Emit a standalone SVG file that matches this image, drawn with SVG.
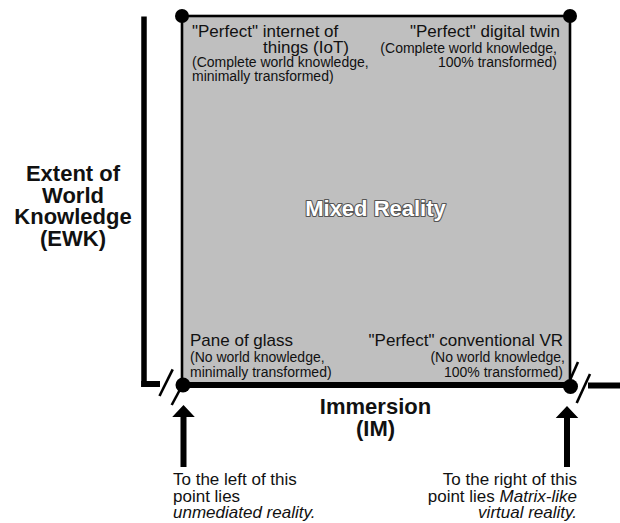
<svg xmlns="http://www.w3.org/2000/svg" width="620" height="523" viewBox="0 0 620 523">
<style>
text{font-family:"Liberation Sans",Arial,sans-serif;fill:#111}
.lg{font-size:17px}
.sm{font-size:14px}
.ax{font-size:22px;font-weight:bold;text-anchor:middle}
.r{text-anchor:end}
.it{font-style:italic}
.ln{stroke:#000;fill:none}
.dot{fill:#000}
</style>
<rect width="620" height="523" fill="#fff"/>
<g id="region">
<rect x="182" y="16" width="388" height="369" fill="#bfbfbf" stroke="#000" stroke-width="2.6"/>
<text x="375.5" y="216" class="ax" style="fill:#fff;stroke:#555;stroke-width:2.2;paint-order:stroke;stroke-linejoin:round">Mixed Reality</text>
</g>
<g id="connectors">
<line class="ln" x1="144" y1="16.5" x2="144" y2="387" stroke-width="5.5"/>
<line class="ln" x1="141.2" y1="384" x2="160" y2="384" stroke-width="6"/>
<line class="ln" x1="182" y1="385" x2="570" y2="385" stroke-width="6"/>
<line class="ln" x1="588" y1="385.5" x2="620" y2="385.5" stroke-width="6"/>
<line class="ln" x1="159.5" y1="396" x2="172.7" y2="369.3" stroke-width="2.6"/>
<line class="ln" x1="171.7" y1="405" x2="183" y2="384" stroke-width="2.6"/>
<line class="ln" x1="570" y1="380" x2="578" y2="362" stroke-width="2.6"/>
<line class="ln" x1="576.7" y1="403" x2="590" y2="374" stroke-width="2.6"/>
<path d="M183.5 405 L194.8 417 L186.5 417 L186.5 467 L180.5 467 L180.5 417 L172.2 417 Z" fill="#000"/>
<path d="M567 406 L578.3 418 L570 418 L570 467 L564 467 L564 418 L555.7 418 Z" fill="#000"/>
</g>
<g id="corner-tl">
<circle class="dot" cx="182" cy="16" r="7"/>
<text class="lg" x="192" y="37">"Perfect" internet of</text>
<text class="lg" x="263" y="53">things (IoT)</text>
<text class="sm" x="192" y="67">(Complete world knowledge,</text>
<text class="sm" x="192" y="81">minimally transformed)</text>
</g>
<g id="corner-tr">
<circle class="dot" cx="570" cy="16" r="7"/>
<text class="lg r" x="560" y="37">"Perfect" digital twin</text>
<text class="sm r" x="557" y="53">(Complete world knowledge,</text>
<text class="sm r" x="557" y="67">100% transformed)</text>
</g>
<g id="corner-bl">
<circle class="dot" cx="183" cy="385" r="7.5"/>
<text class="lg" x="190" y="346">Pane of glass</text>
<text class="sm" x="190" y="362">(No world knowledge,</text>
<text class="sm" x="190" y="377">minimally transformed)</text>
</g>
<g id="corner-br">
<circle class="dot" cx="570.5" cy="386.5" r="7.5"/>
<text class="lg r" x="563" y="346">"Perfect" conventional VR</text>
<text class="sm r" x="565" y="362">(No world knowledge,</text>
<text class="sm r" x="563" y="377">100% transformed)</text>
</g>
<g id="axis-ewk">
<text class="ax" x="73" y="181">Extent of</text>
<text class="ax" x="73" y="202.5">World</text>
<text class="ax" x="73" y="224">Knowledge</text>
<text class="ax" x="73" y="245.5">(EWK)</text>
</g>
<g id="axis-im">
<text class="ax" x="375.5" y="414">Immersion</text>
<text class="ax" x="375.5" y="436">(IM)</text>
</g>
<g id="note-left">
<text class="lg" x="173" y="485">To the left of this</text>
<text class="lg" x="173" y="502">point lies</text>
<text class="lg it" x="173" y="518">unmediated reality.</text>
</g>
<g id="note-right">
<text class="lg r" x="577" y="485">To the right of this</text>
<text class="lg r" x="577" y="502">point lies <tspan class="it">Matrix-like</tspan></text>
<text class="lg r it" x="577" y="518">virtual reality.</text>
</g>
</svg>
